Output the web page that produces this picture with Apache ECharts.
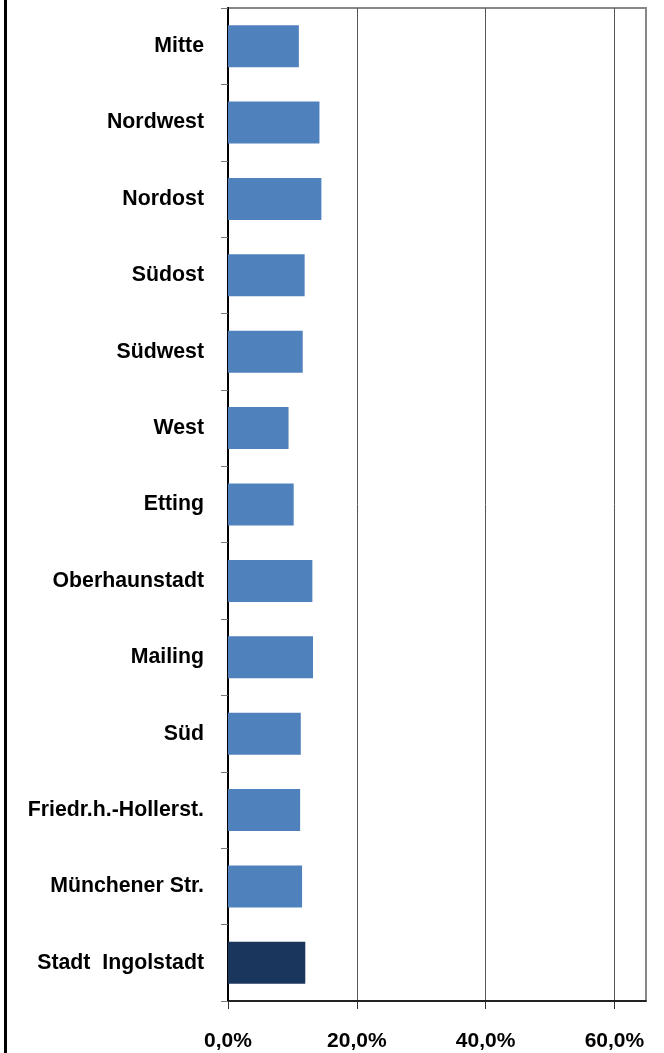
<!DOCTYPE html>
<html>
<head>
<meta charset="utf-8">
<script src="https://cdn.jsdelivr.net/npm/echarts@6/dist/echarts.min.js"></script>
<style>
  html, body { margin: 0; padding: 0; background: #fff; }
  #chart { width: 664px; height: 1053px; }
</style>
</head>
<body>
<div id="chart"></div>
<script>
// Stadtbezirke (oben -> unten)
var categories = [
  "Mitte", "Nordwest", "Nordost", "Südost", "Südwest", "West", "Etting",
  "Oberhaunstadt", "Mailing", "Süd", "Friedr.h.-Hollerst.", "Münchener Str.",
  "Stadt  Ingolstadt"
];
// Anteil in %
var values = [11.0, 14.2, 14.5, 11.9, 11.6, 9.4, 10.2, 13.1, 13.2, 11.3, 11.2, 11.5, 12.0];
var xTicks = [0, 20, 40, 60];

var barColor = "#4F81BD";
var totalColor = "#1B365D";

var chart = echarts.init(document.getElementById("chart"));
chart.setOption({
  animation: false,
  backgroundColor: "#fff",
  textStyle: { fontFamily: "Liberation Sans, Arial, sans-serif" },
  grid: {
    left: 228, right: 18, top: 8, bottom: 52,
    show: true,
    borderColor: "#888",
    borderWidth: 2
  },
  xAxis: {
    type: "value",
    min: 0,
    max: 64.9,
    interval: 20,
    axisLine: { show: true, lineStyle: { color: "#000", width: 1.5 } },
    axisTick: { show: true, length: 8, customValues: xTicks, lineStyle: { color: "#333" } },
    splitLine: { show: true, lineStyle: { color: "#555", width: 1 } },
    axisLabel: {
      customValues: xTicks,
      margin: 30,
      fontSize: 21,
      fontWeight: "bold",
      color: "#000",
      formatter: function (v) { return v.toFixed(1).replace(".", ",") + "%"; }
    }
  },
  yAxis: {
    type: "category",
    inverse: true,
    data: categories,
    axisLine: { show: true, lineStyle: { color: "#000", width: 2 } },
    axisTick: { show: true, length: 7, lineStyle: { color: "#777" } },
    axisLabel: {
      margin: 24,
      fontSize: 21.3,
      fontWeight: "bold",
      color: "#000"
    }
  },
  series: [{
    type: "bar",
    data: values,
    barCategoryGap: "45%",
    itemStyle: {
      color: function (p) {
        return p.dataIndex === values.length - 1 ? totalColor : barColor;
      }
    }
  }],
  graphic: [{
    type: "rect",
    shape: { x: 4, y: 0, width: 3, height: 1053 },
    style: { fill: "#000" }
  }]
});
</script>
</body>
</html>
